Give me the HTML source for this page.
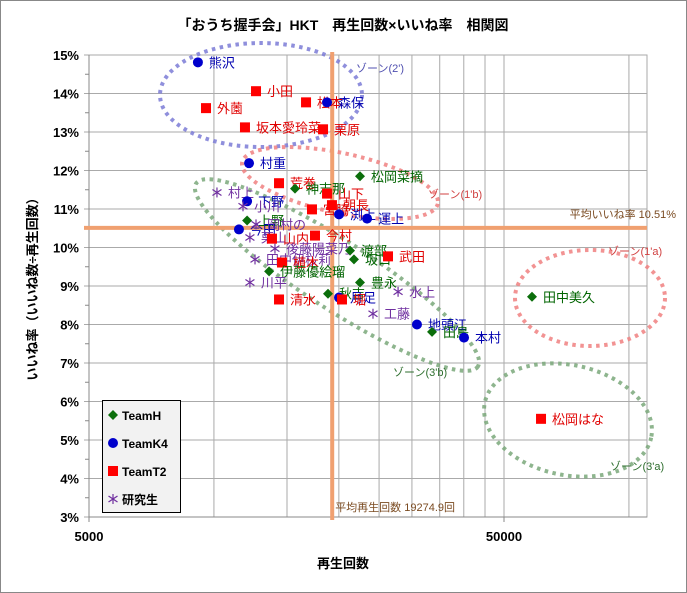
<!DOCTYPE html>
<html><head><meta charset="utf-8">
<style>
body{margin:0;background:#fff;}
svg{display:block;font-family:"Liberation Sans","Noto Sans CJK JP",sans-serif;}
</style></head>
<body>
<svg id="chart" width="687" height="593" xmlns="http://www.w3.org/2000/svg">
<rect x="0.5" y="0.5" width="686" height="592" fill="#fff" stroke="#888"/>
<text x="343" y="30" text-anchor="middle" font-size="14" font-weight="bold" fill="#000">「おうち握手会」HKT　再生回数×いいね率　相関図</text>
<text x="343" y="568" text-anchor="middle" font-size="13" font-weight="bold">再生回数</text>
<text transform="translate(37,286) rotate(-90)" text-anchor="middle" font-size="13" font-weight="bold">いいね率（いいね数÷再生回数）</text>
<g id="grid"></g>
<g id="zones"></g>
<g id="avg"></g>
<g id="marks"></g>
<g id="legend"></g>
</svg>
<script>
const names = ["熊沢","小田","外薗","松本","森保","坂本愛玲菜","栗原","村重","荒巻","神志那","松岡菜摘","山下","宮脇","朝長","渕上","運上","村上","下野","小川","上野","今田","岡村の","栗山","山内","今村","後藤陽菜乃","渡部","田中伊桜莉","植木","坂口","武田","伊藤優絵瑠","川平","豊永","水上","清水","秋吉","月足","堀","工藤","地頭江","田島","本村","田中美久","松岡はな"];
const teams = ["K4","T2","T2","T2","K4","T2","T2","K4","T2","H","H","T2","T2","T2","K4","K4","KS","K4","KS","H","K4","KS","KS","T2","T2","KS","H","KS","T2","H","T2","H","KS","H","KS","T2","H","K4","T2","KS","K4","H","K4","H","T2"];
const plays = [9150,12630,9570,16670,18730,11880,18320,12150,14350,15680,22490,18730,17230,19250,20020,23390,10170,12020,11750,12020,11490,12630,12210,13800,17520,14030,21280,12560,14590,21750,26270,13580,12210,22490,27780,14350,18830,20020,20350,24170,30850,33540,40050,58400,61400];
const likes = [14.81,14.06,13.62,13.77,13.77,13.12,13.07,12.19,11.67,11.53,11.85,11.40,10.99,11.10,10.86,10.75,11.43,11.20,11.07,10.70,10.47,10.60,10.26,10.23,10.31,9.97,9.92,9.69,9.61,9.69,9.77,9.38,9.09,9.09,8.85,8.65,8.80,8.70,8.65,8.28,8.00,7.81,7.66,8.72,5.55];
const yTicks = [3,4,5,6,7,8,9,10,11,12,13,14,15];
const xGrid = [10000,15000,20000,25000,30000,35000,40000,45000,50000,100000];
const xTickLabels = [5000,50000];
const avgPlays = 19274.9;
const avgLikes = 10.51;

const NS="http://www.w3.org/2000/svg";
const X0=89,X1=647,Y0=55,Y1=517,DEC=415;
function xs(v){return X0+DEC*Math.log10(v/5000);}
function ys(p){return Y1-(p-3)*(Y1-Y0)/12;}
function mk(tag,attrs,parent,txt){const e=document.createElementNS(NS,tag);for(const k in attrs)e.setAttribute(k,attrs[k]);if(txt!==undefined)e.textContent=txt;parent.appendChild(e);return e;}
const colors={H:"#0b6e0b",K4:"#0000cc",T2:"#ff0000",KS:"#7030a0"};
const textColors={H:"#006400",K4:"#0000b0",T2:"#e00000",KS:"#7030a0"};

const grid=document.getElementById('grid');
mk('rect',{x:X0,y:Y0,width:X1-X0,height:Y1-Y0,fill:'#fff',stroke:'#aaa'},grid);
yTicks.forEach(t=>{
  const y=ys(t);
  const l=mk('line',{x1:X0-5,x2:X1,y1:y,y2:y,stroke:'#aaa','stroke-width':1},grid);
  
  
  const tx=mk('text',{x:X0-10,y:y+5,'text-anchor':'end','font-size':13,'font-weight':'bold'},grid,t+'%');
  
  
  if(t<15){const m=ys(t+0.5);mk('line',{x1:X0-4,x2:X0,y1:m,y2:m,stroke:'#888'},grid);}
});
xGrid.forEach(v=>{
  const x=xs(v);
  const l=mk('line',{x1:x,x2:x,y1:Y0,y2:Y1,stroke:'#aaa'},grid);
  
  
});
mk('line',{x1:X0,x2:X1,y1:Y1,y2:Y1,stroke:'#888'},grid);
mk('line',{x1:X0,x2:X0,y1:Y0,y2:Y1,stroke:'#888'},grid);
xTickLabels.forEach(v=>{
  const x=xs(v);
  mk('line',{x1:x,x2:x,y1:Y1,y2:Y1+5,stroke:'#888'},grid);
  const tx=mk('text',{x:x,y:541,'text-anchor':'middle','font-size':13,'font-weight':'bold'},grid,String(v));
  
  
});

// zones
const zones=document.getElementById('zones');
function zone(cx,cy,rx,ry,rot,col,name){
  const e=mk('ellipse',{cx:cx,cy:cy,rx:rx,ry:ry,transform:`rotate(${rot} ${cx} ${cy})`,fill:'none',stroke:col,'stroke-width':4,'stroke-dasharray':'3.5 4.5',opacity:0.85},zones);
  
  
}
zone(261,95,101,52,0,'#7b7bd6','zone-2-ellipse');
zone(340,183,100,30,12,'#f08080','zone-1b-ellipse');
zone(590,298,75,48,0,'#f08080','zone-1a-ellipse');
zone(568,420,85,55,12,'#7aa87a','zone-3a-ellipse');
zone(337,275,168,34,33,'#7aa87a','zone-3b-ellipse');
function zl(x,y,t,c,name){const e=mk('text',{x:x,y:y,'font-size':11,fill:c},zones,t);}
zl(356,72,"ゾーン(2')",'#5050b0','zone-2-label');
zl(428,198,"ゾーン(1'b)",'#d04040','zone-1b-label');
zl(608,255,"ゾーン(1'a)",'#d04040','zone-1a-label');
zl(393,376,"ゾーン(3'b)",'#2e6e2e','zone-3b-label');
zl(610,470,"ゾーン(3'a)",'#2e6e2e','zone-3a-label');

// averages
const avg=document.getElementById('avg');
const ax=xs(avgPlays), ay=ys(avgLikes);
let e=mk('line',{x1:ax,x2:ax,y1:Y0-3,y2:Y1+3,stroke:'#f0a070','stroke-width':4},avg);


e=mk('line',{x1:X0-5,x2:X1,y1:ay,y2:ay,stroke:'#f0a070','stroke-width':4},avg);


e=mk('text',{x:676,y:ay-10,'text-anchor':'end','font-size':11,fill:'#7a4a20'},avg,'平均いいね率  '+avgLikes.toFixed(2)+'%');


e=mk('text',{x:ax+3,y:Y1-6,'font-size':11,fill:'#7a4a20'},avg,'平均再生回数  '+avgPlays+'回');



function marker(team,x,y,parent){
  const c=colors[team];
  if(team==='H') return mk('path',{d:`M${x} ${y-5}L${x+5} ${y}L${x} ${y+5}L${x-5} ${y}Z`,fill:c},parent);
  if(team==='K4') return mk('circle',{cx:x,cy:y,r:5,fill:c},parent);
  if(team==='T2') return mk('rect',{x:x-5,y:y-5,width:10,height:10,fill:c},parent);
  const g=mk('g',{stroke:c,'stroke-width':1.2},parent);
  mk('line',{x1:x,y1:y-5,x2:x,y2:y+5},g);
  mk('line',{x1:x-4.5,y1:y-3,x2:x+4.5,y2:y+3},g);
  mk('line',{x1:x-4.5,y1:y+3,x2:x+4.5,y2:y-3},g);
  return g;
}
const marks=document.getElementById('marks');
names.forEach((n,i)=>{
  const x=xs(plays[i]), y=ys(likes[i]), t=teams[i];
  const m=marker(t,x,y,marks);
  
  
  const tx=mk('text',{x:x+11,y:y+5,'font-size':13,fill:textColors[t]},marks,n);
  
  
});

// legend
const lg=document.getElementById('legend');
e=mk('rect',{x:102.5,y:400.5,width:78,height:112,fill:'#f2f2f2',stroke:'#000'},lg);


const legendTeams=["H","K4","T2","KS"];
const legendLabels=["TeamH","TeamK4","TeamT2","研究生"];
legendTeams.forEach((t,i)=>{
  const y=415+i*28;
  marker(t,113,y,lg);
  const tx=mk('text',{x:122,y:y+5,'font-size':12,'font-weight':'bold'},lg,legendLabels[i]);
  
  
});
</script>
</body></html>
